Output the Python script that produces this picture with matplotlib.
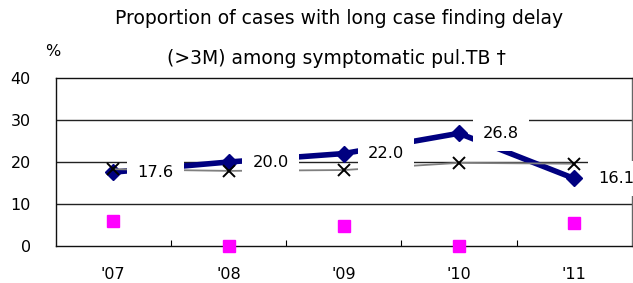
import matplotlib
matplotlib.use("Agg")
import matplotlib.pyplot as plt
import numpy as np

# data
years = ["'07", "'08", "'09", "'10", "'11"]
long_delay = [17.6, 20.0, 22.0, 26.8, 16.1]      # navy diamonds, labelled
comparison = [18.3, 17.9, 18.1, 19.8, 19.6]      # black crosses
pink_vals = [6.1, 0.0, 4.8, 0.0, 5.5]            # magenta squares
y_ticks = [0, 10, 20, 30, 40]

plt.rcParams['font.family'] = ['DejaVu Sans']

fig = plt.figure(figsize=(6.33, 2.83), dpi=100)
ax = fig.add_axes([0.088, 0.129, 0.910, 0.597])

x = np.arange(len(years))

# gridlines
for v in y_ticks[1:-1]:
    ax.axhline(v, color='#222222', lw=1.0, zorder=1)

ax.plot(x, long_delay, color='#000080', lw=4, marker='D', ms=8.5,
        zorder=3, solid_joinstyle='round')
ax.plot(x, comparison, color='#808080', lw=1.3, marker='x', ms=9,
        mec='black', mew=1.4, zorder=4)
ax.plot(x, pink_vals, ls='none', marker='s', ms=8, color='#ff00ff',
        zorder=4, clip_on=False)

for xi, v in zip(x, long_delay):
    ax.annotate(f"{v:.1f}", (xi, v), xytext=(24, 0), textcoords='offset pixels',
                ha='left', va='center', fontsize=11.7, zorder=6,
                bbox=dict(boxstyle='square,pad=0.62', fc='white', ec='none'))

ax.set_xlim(-0.5, 4.5)
ax.set_ylim(0, 40)
ax.set_yticks(y_ticks)
ax.set_yticklabels([str(v) for v in y_ticks], fontsize=11.5)
ax.set_xticks(x)
ax.set_xticklabels(years, fontsize=11.5)
ax.set_xticks(np.arange(0.5, 4.5, 1.0), minor=True)
ax.tick_params(axis='y', length=0, pad=18)
ax.tick_params(axis='x', which='major', length=0, pad=15)
ax.tick_params(axis='x', which='minor', direction='in', length=4, width=0.8)

for side in ['top', 'left', 'bottom']:
    ax.spines[side].set_color('#111111')
ax.spines['right'].set_color('#666666')
for s in ax.spines.values():
    s.set_linewidth(1.0)

fig.text(339 / 633, 1 - 19 / 283, "Proportion of cases with long case finding delay",
         ha='center', va='center', fontsize=13.5)
fig.text(336 / 633, 1 - 58 / 283, "(>3M) among symptomatic pul.TB \u2020",
         ha='center', va='center', fontsize=13.5)
fig.text(53 / 633, 1 - 52 / 283, "%", ha='center', va='center', fontsize=11.5)

fig.savefig("out.png", dpi=100)
